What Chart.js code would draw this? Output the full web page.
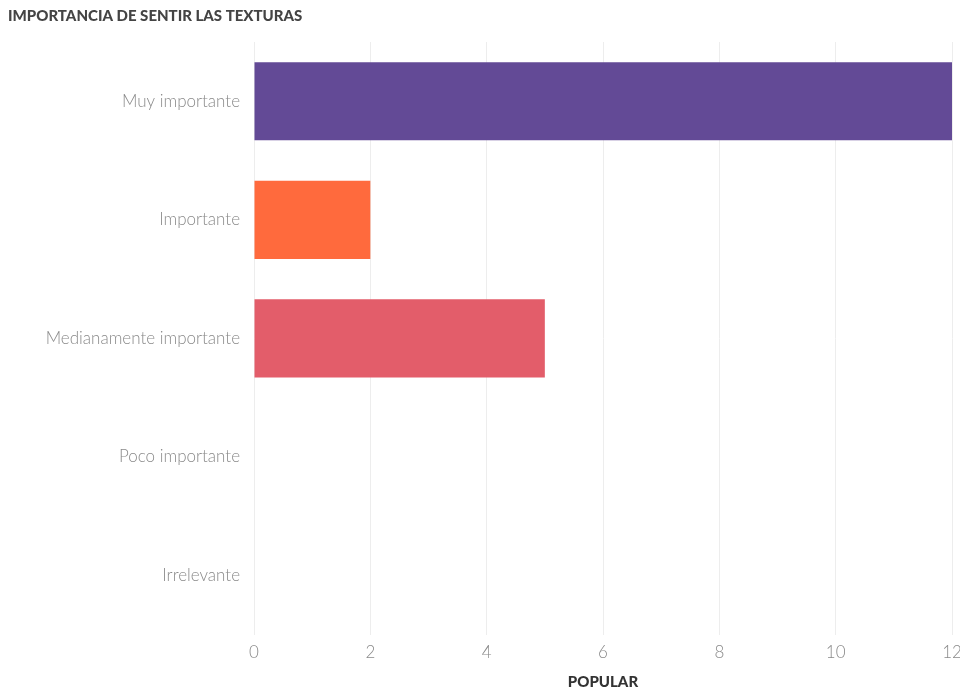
<!DOCTYPE html>
<html>
<head>
<meta charset="utf-8">
<script src="https://cdn.jsdelivr.net/npm/chart.js@4"></script>
<style>
  html, body { margin: 0; padding: 0; background: #fff; }
  #wrap { width: 960px; height: 692px; }
</style>
</head>
<body>
<div id="wrap"><canvas id="texturasChart" width="960" height="692"></canvas></div>
<script>
var categorias = ["Muy importante", "Importante", "Medianamente importante", "Poco importante", "Irrelevante"];
var valores = [12, 2, 5, 0, 0];
var colores = ["#634a96", "#ff6a3d", "#e35d6a", "#4fb3a8", "#f5b83d"];
var ticksX = [0, 2, 4, 6, 8, 10, 12];

var ctx = document.getElementById("texturasChart");

var chart = new Chart(ctx, {
  type: 'bar',
  data: {
    labels: categorias,
    datasets: [{
      label: "Popular",
      data: valores,
      backgroundColor: colores,
      borderWidth: 0,
      barPercentage: 0.66,
      categoryPercentage: 1
    }]
  },
  options: {
    indexAxis: 'y',
    responsive: false,
    animation: false,
    layout: { padding: { left: 8, right: 0, top: 0, bottom: 1 } },
    plugins: {
      legend: { display: false },
      tooltip: { enabled: false },
      title: {
        display: true,
        text: "IMPORTANCIA DE SENTIR LAS TEXTURAS",
        align: 'start',
        color: '#444',
        font: { family: 'Lato', size: 15, weight: '900' },
        padding: { top: 7, bottom: 17 }
      }
    },
    scales: {
      x: {
        min: 0,
        max: 12,
        afterBuildTicks: function (scale) {
          scale.ticks = ticksX.map(function (v) { return { value: v }; });
        },
        afterFit: function (scale) { scale.paddingRight = 8; },
        grid: { color: '#ededed', drawTicks: false },
        border: { display: false },
        ticks: {
          color: '#8a8a8a',
          padding: 8,
          font: { family: 'Lato', size: 17, weight: '300' }
        },
        title: {
          display: true,
          text: 'POPULAR',
          color: '#333',
          font: { family: 'Lato', size: 15, weight: '900' },
          padding: { top: 2, bottom: 0 }
        }
      },
      y: {
        grid: { display: false },
        border: { display: false },
        afterFit: function (scale) { scale.width = 246; },
        ticks: {
          color: '#8a8a8a',
          padding: 6,
          font: { family: 'Lato', size: 17, weight: '300' }
        }
      }
    }
  }
});
</script>
</body>
</html>
